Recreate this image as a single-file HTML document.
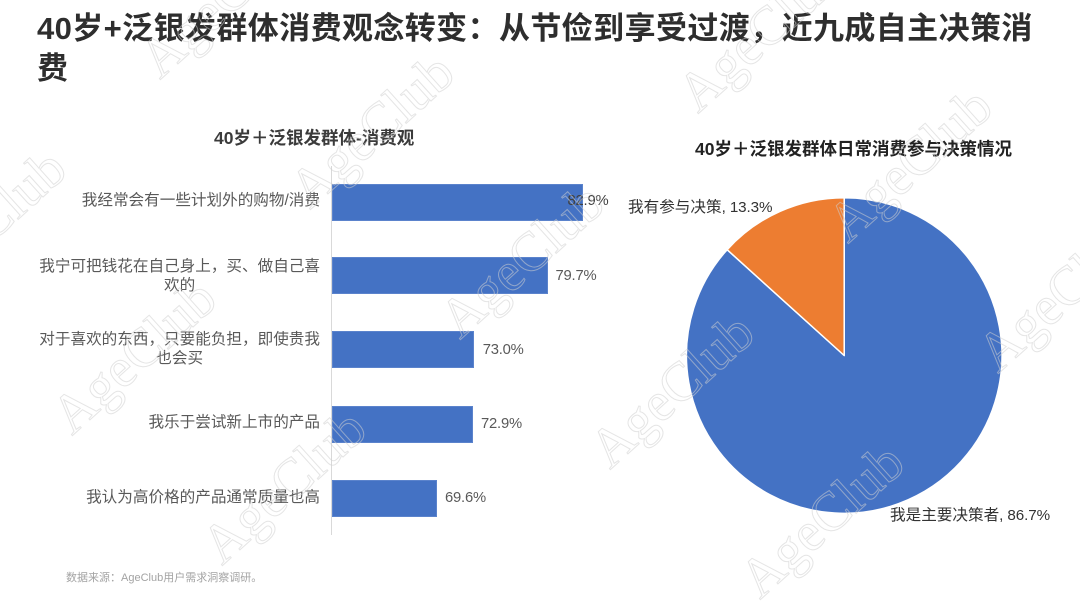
<!DOCTYPE html>
<html>
<head>
<meta charset="utf-8">
<style>
  html, body { margin:0; padding:0; }
  body { width:1080px; height:606px; position:relative; overflow:hidden; background:#ffffff;
         font-family:"Liberation Sans","Noto Sans CJK SC",sans-serif; }
  .abs { position:absolute; white-space:nowrap; }
  .title { left:37px; top:9px; font-size:31px; line-height:40px; font-weight:bold; color:#2e2e2e; letter-spacing:0.4px; }
  .ctitle { font-size:17.5px; line-height:22px; font-weight:bold; }
  .cat { right:760px; font-size:15.6px; line-height:18.5px; color:#595959; text-align:center; }
  .bar { position:absolute; left:332px; height:37px; background:#4472C4; box-shadow: inset 0 0 0 1px #5b83cc; }
  .val { font-size:14.8px; line-height:18px; color:#595959; letter-spacing:-0.2px; }
  .plab { font-size:15.6px; line-height:18.5px; color:#333333; }
  .plab span { font-size:15.2px; letter-spacing:-0.1px; }
  .foot { left:66px; top:571px; font-size:11px; line-height:14px; color:#a3a3a3; }
</style>
</head>
<body>

<div class="abs title">40岁+泛银发群体消费观念转变：从节俭到享受过渡，近九成自主决策消<br>费</div>

<!-- Bar chart -->
<div class="abs ctitle" style="left:214px; top:126.5px; color:#3b3b3b;">40岁＋泛银发群体-消费观</div>

<div class="abs" style="left:331px; top:166px; width:1px; height:369px; background:#d9d9d9;"></div>

<div class="bar" style="top:183.5px; width:251px;"></div>
<div class="bar" style="top:257px; width:216px;"></div>
<div class="bar" style="top:331px; width:142.4px;"></div>
<div class="bar" style="top:405.5px; width:141.4px;"></div>
<div class="bar" style="top:479.5px; width:105.3px;"></div>

<div class="abs cat" style="top:192px;">我经常会有一些计划外的购物/消费</div>
<div class="abs cat" style="top:258px;">我宁可把钱花在自己身上，买、做自己喜<br>欢的</div>
<div class="abs cat" style="top:331px;">对于喜欢的东西，只要能负担，即使贵我<br>也会买</div>
<div class="abs cat" style="top:414px;">我乐于尝试新上市的产品</div>
<div class="abs cat" style="top:488.5px;">我认为高价格的产品通常质量也高</div>

<div class="abs val" style="left:567.5px; top:192px; color:#404040;">82.9%</div>
<div class="abs val" style="left:555.5px; top:266.6px;">79.7%</div>
<div class="abs val" style="left:482.7px; top:341px;">73.0%</div>
<div class="abs val" style="left:481px; top:415px;">72.9%</div>
<div class="abs val" style="left:445px; top:489px;">69.6%</div>

<!-- Pie chart -->
<div class="abs ctitle" style="left:695px; top:137.6px; color:#222222;">40岁＋泛银发群体日常消费参与决策情况</div>

<svg class="abs" style="left:0; top:0;" width="1080" height="606" viewBox="0 0 1080 606">
  <path d="M844.2,355.5 L844.2,197.7 A157.8,157.8 0 1 1 727.15,249.7 Z" fill="#4472C4" stroke="#ffffff" stroke-width="1.5" stroke-linejoin="round"/>
  <path d="M844.2,355.5 L727.15,249.7 A157.8,157.8 0 0 1 844.2,197.7 Z" fill="#ED7D31" stroke="#ffffff" stroke-width="1.5" stroke-linejoin="round"/>
</svg>

<div class="abs plab" style="left:628px; top:199px;">我有参与决策<span>, 13.3%</span></div>
<div class="abs plab" style="left:890px; top:506.5px;">我是主要决策者<span>, 86.7%</span></div>

<div class="abs foot">数据来源：AgeClub用户需求洞察调研。</div>

<!-- Watermark -->
<svg class="abs" style="left:0; top:0; pointer-events:none;" width="1080" height="606" viewBox="0 0 1080 606">
  <g font-family="Liberation Serif, serif" font-size="55" fill="none" stroke="#cfcfcf" stroke-opacity="0.55" stroke-width="1">
    <text transform="translate(160,80) rotate(-42)">AgeClub</text>
    <text transform="translate(310,210) rotate(-42)">AgeClub</text>
    <text transform="translate(460,340) rotate(-42)">AgeClub</text>
    <text transform="translate(610,470) rotate(-42)">AgeClub</text>
    <text transform="translate(760,600) rotate(-42)">AgeClub</text>
    <text transform="translate(698,114) rotate(-42)">AgeClub</text>
    <text transform="translate(848,244) rotate(-42)">AgeClub</text>
    <text transform="translate(998,374) rotate(-42)">AgeClub</text>
    <text transform="translate(-78,306) rotate(-42)">AgeClub</text>
    <text transform="translate(72,436) rotate(-42)">AgeClub</text>
    <text transform="translate(222,566) rotate(-42)">AgeClub</text>
  </g>
</svg>

</body>
</html>
